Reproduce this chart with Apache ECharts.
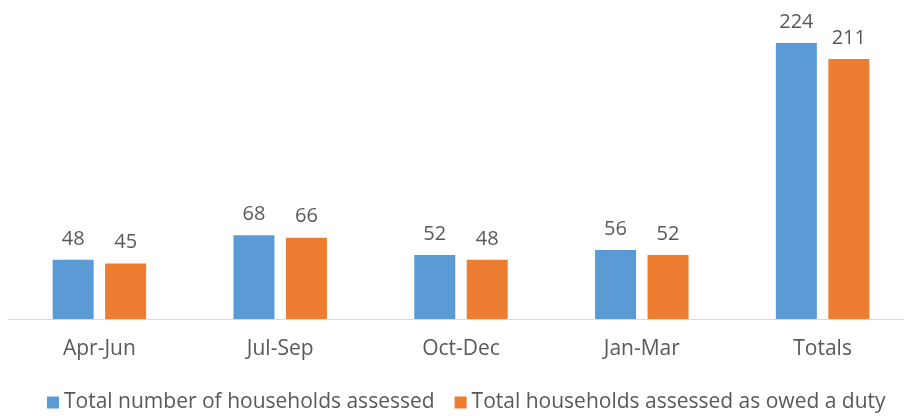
<!DOCTYPE html>
<html lang="en">
<head>
    <meta charset="UTF-8">
    <title>Households assessed</title>
    <script src="https://cdn.jsdelivr.net/npm/echarts@6.0.0/dist/echarts.min.js"></script>
    <style>
        html, body { margin: 0; padding: 0; background: #ffffff; }
        #chart-container { width: 904px; height: 416px; }
    </style>
</head>
<body>
<div id="chart-container"></div>

<script>
    // data
    var categories = ["Apr-Jun", "Jul-Sep", "Oct-Dec", "Jan-Mar", "Totals"];
    var assessed = [48, 68, 52, 56, 224];
    var owedDuty = [45, 66, 48, 52, 211];
    var seriesNames = ["Total number of households assessed", "Total households assessed as owed a duty"];

    var colors = ["#5B9BD5", "#ED7D31"];
    var textColor = "#595959";
    var fontFamily = "Open Sans";

    function barSeries(name, values) {
        return {
            name: name,
            type: "bar",
            barWidth: 41,
            barGap: "28%",
            data: values,
            label: {
                show: true,
                position: "top",
                distance: 11,
                color: textColor,
                fontSize: 20,
                fontFamily: fontFamily
            }
        };
    }

    var option = {
        color: colors,
        animation: false,
        grid: {
            left: 9,
            right: -9,
            top: 11,
            bottom: 97,
            outerBoundsMode: "none"
        },
        legend: {
            bottom: -2,
            left: 42,
            icon: "rect",
            itemWidth: 12,
            itemHeight: 12,
            itemGap: 20,
            textStyle: {
                color: textColor,
                fontSize: 21,
                fontFamily: fontFamily
            },
            data: seriesNames
        },
        xAxis: {
            type: "category",
            data: categories,
            axisLine: { lineStyle: { color: "#d9d9d9", width: 1 } },
            axisTick: { show: false },
            axisLabel: {
                color: textColor,
                fontSize: 21,
                fontFamily: fontFamily,
                margin: 20
            }
        },
        yAxis: {
            type: "value",
            min: 0,
            max: 250,
            show: false,
            splitLine: { show: false }
        },
        series: [
            barSeries(seriesNames[0], assessed),
            barSeries(seriesNames[1], owedDuty)
        ]
    };

    var chart = echarts.init(document.getElementById("chart-container"));
    chart.setOption(option);
</script>
</body>
</html>
